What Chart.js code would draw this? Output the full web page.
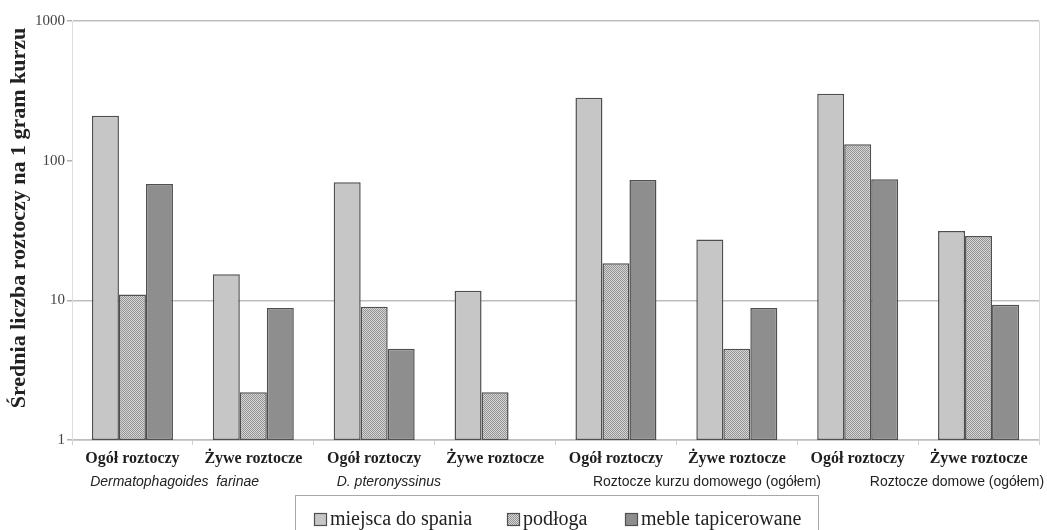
<!DOCTYPE html>
<html>
<head>
<meta charset="utf-8">
<script src="https://cdn.jsdelivr.net/npm/chart.js@4/dist/chart.umd.min.js"></script>
<style>
  html, body { margin: 0; padding: 0; background: #ffffff; }
  #wrap { width: 1047px; height: 530px; position: relative; }
  canvas { display: block; }
</style>
</head>
<body>
<div id="wrap"><canvas id="c" width="1047" height="530"></canvas></div>
<script>
// ---- data ----
const categories = ['Ogół roztoczy', 'Żywe roztocze', 'Ogół roztoczy', 'Żywe roztocze',
                    'Ogół roztoczy', 'Żywe roztocze', 'Ogół roztoczy', 'Żywe roztocze'];
const groupLabels = ['Dermatophagoides  farinae', 'D. pteronyssinus',
                     'Roztocze kurzu domowego (ogółem)', 'Roztocze domowe (ogółem)'];
const groupItalic = [true, true, false, false];
const seriesNames = ['miejsca do spania', 'podłoga', 'meble tapicerowane'];
const sleepingPlaces = [210, 15.4, 70, 11.7, 282, 27.3, 301, 31.3];
const floorValues    = [11.0, 2.2, 9.0, 2.2, 18.4, 4.5, 131, 28.9];
const upholstered    = [68, 8.8, 4.5, null, 72.6, 8.8, 73.5, 9.3];
const yTicks = [1, 10, 100, 1000];
const yTitle = 'Średnia liczba roztoczy na 1 gram kurzu';

// ---- styles ----
const SERIF = '"Liberation Serif", "Times New Roman", serif';
const SANS = '"Liberation Sans", Arial, sans-serif';

function makePattern() {
  const c = document.createElement('canvas');
  c.width = 2; c.height = 2;
  const g = c.getContext('2d');
  g.fillStyle = '#d6d6d6'; g.fillRect(0, 0, 2, 2);
  g.fillStyle = '#939393'; g.fillRect(0, 0, 1, 1); g.fillRect(1, 1, 1, 1);
  return g.createPattern(c, 'repeat');
}
const ctx0 = document.getElementById('c').getContext('2d');
const floorPattern = makePattern();
const fills = ['#c6c6c6', floorPattern, '#8e8e8e'];
const BORDER = '#4f4f4f';

// group label anchors (left edge of text, in category index units)
const groupAnchors = [-0.35, 1.69, 3.81, 6.10];

const groupLabelPlugin = {
  id: 'groupLabels',
  afterDraw(chart) {
    const ctx = chart.ctx;
    const xs = chart.scales.x;
    const area = chart.chartArea;
    ctx.save();
    // right border line
    ctx.strokeStyle = '#d8d8d8';
    ctx.lineWidth = 1;
    ctx.beginPath();
    ctx.moveTo(Math.round(area.right) + 0.5, area.top);
    ctx.lineTo(Math.round(area.right) + 0.5, area.bottom);
    ctx.stroke();

    // y axis title
    ctx.save();
    ctx.translate(19, 218);
    ctx.rotate(-Math.PI / 2);
    ctx.font = 'bold 22px ' + SERIF;
    ctx.fillStyle = '#222';
    ctx.textAlign = 'center';
    ctx.textBaseline = 'middle';
    ctx.fillText(yTitle, 0, 0);
    ctx.restore();

    ctx.fillStyle = '#222';
    ctx.textBaseline = 'middle';
    ctx.textAlign = 'left';
    groupLabels.forEach((t, i) => {
      ctx.font = (groupItalic[i] ? 'italic ' : '') + '14px ' + SANS;
      ctx.fillText(t, xs.getPixelForValue(groupAnchors[i]), 482);
    });

    // legend box
    const lx = 295, ly = 495, lw = 523, lh = 50;
    ctx.strokeStyle = '#a8a8a8';
    ctx.lineWidth = 1;
    ctx.strokeRect(lx + 0.5, ly + 0.5, lw, lh);
    const itemX = [314, 507, 625];
    ctx.font = '20px ' + SERIF;
    seriesNames.forEach((name, i) => {
      const x = itemX[i];
      ctx.fillStyle = fills[i];
      ctx.fillRect(x, 513, 13, 13);
      ctx.strokeStyle = BORDER;
      ctx.lineWidth = 1.2;
      ctx.strokeRect(x + 0.5, 513.5, 12, 12);
      ctx.fillStyle = '#222';
      ctx.fillText(name, x + 16, 520);
    });
    ctx.restore();
  }
};

const datasets = [sleepingPlaces, floorValues, upholstered].map((vals, i) => ({
  label: seriesNames[i],
  data: vals,
  backgroundColor: fills[i],
  borderColor: BORDER,
  borderWidth: 1.5,
  borderSkipped: false,
  categoryPercentage: 0.67,
  barPercentage: 1.0
}));

new Chart(ctx0, {
  type: 'bar',
  data: { labels: categories, datasets },
  options: {
    responsive: false,
    devicePixelRatio: 1,
    animation: false,
    layout: { padding: { top: 21, right: 8, left: 0, bottom: 0 } },
    plugins: { legend: { display: false }, tooltip: { enabled: false } },
    scales: {
      x: {
        afterFit(s) { s.height = 90; },
        grid: { display: true, drawOnChartArea: false, color: '#cfcfcf', tickLength: 5, offset: true },
        border: { color: '#bdbdbd', width: 1.5 },
        ticks: {
          color: '#1e1e1e',
          font: { family: SERIF, size: 16, weight: 'bold' },
          padding: 4,
          maxRotation: 0, autoSkip: false
        }
      },
      y: {
        type: 'logarithmic',
        min: 1, max: 1000,
        afterFit(s) { s.width = 72; },
        afterBuildTicks(s) { s.ticks = yTicks.map(v => ({ value: v })); },
        grid: {
          color: (c) => (c.tick && c.tick.value === 100) ? 'rgba(0,0,0,0)' : '#bdbdbd',
          lineWidth: 1.5,
          tickColor: '#b0b0b0',
          tickLength: 5
        },
        border: { color: '#dddddd', width: 1 },
        ticks: {
          color: '#444',
          font: { family: SERIF, size: 15 },
          padding: 2,
          callback: (v) => String(v)
        },
        title: { display: false }
      }
    }
  },
  plugins: [groupLabelPlugin]
});
</script>
</body>
</html>
